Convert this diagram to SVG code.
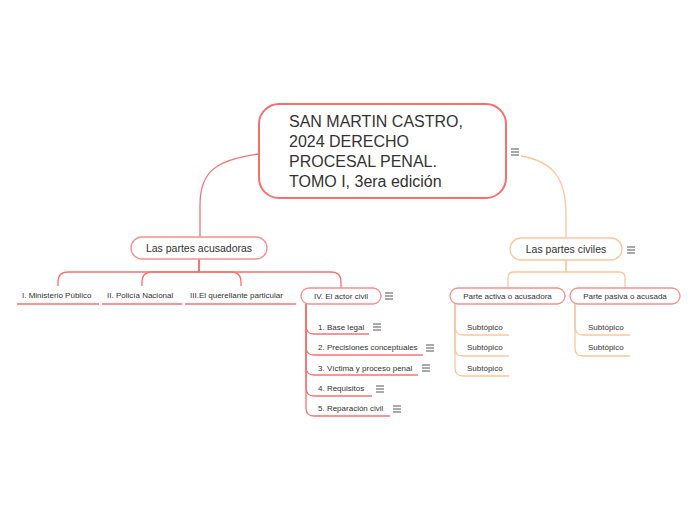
<svg xmlns="http://www.w3.org/2000/svg" xmlns:xlink="http://www.w3.org/1999/xlink" width="697" height="520" viewBox="0 0 697 520">
<style>
text{font-family:"Liberation Sans",Arial,sans-serif;fill:#333}
.root{font-size:16px}
.l1{font-size:10.5px}
.l2{font-size:8px}
.red{fill:none;stroke:#f87272;stroke-width:1.3}
.ora{fill:none;stroke:#ffc59a;stroke-width:1.3}
.box{fill:#fff;stroke:#f79090;stroke-width:1.3}
.obox{fill:#fff;stroke:#ffc59a;stroke-width:1.3}
.ul{fill:none;stroke:#f87272;stroke-width:1.3}
.oul{fill:none;stroke:#ffc59a;stroke-width:1.3}
</style>
<defs>
<g id="menu" stroke="#555" stroke-width="1">
<line x1="-4" y1="-3" x2="4" y2="-3"/><line x1="-4" y1="0" x2="4" y2="0"/><line x1="-4" y1="3" x2="4" y2="3"/>
</g>
</defs>
<rect width="697" height="520" fill="#fff"/>
<g id="connectors">
<path class="red" d="M259,154 C215,160 200,172 200,205 V237"/>
<path class="ora" d="M521,156 C555,162 566,180 566,215 V237"/>
<path class="red" d="M199,259 V272 H68 Q58,272 58,282 V286"/>
<path class="red" d="M199,259 V272 H152 Q142,272 142,282 V286"/>
<path class="red" d="M199,259 V272 H231 Q241,272 241,282 V286"/>
<path class="red" d="M199,259 V272 H331 Q341,272 341,282 V288"/>
<path class="red" d="M306,304 V326 Q306,334 314,334"/>
<path class="red" d="M306,304 V347 Q306,355 314,355"/>
<path class="red" d="M306,304 V367 Q306,375 314,375"/>
<path class="red" d="M306,304 V388 Q306,396 314,396"/>
<path class="red" d="M306,304 V408 Q306,416 314,416"/>
<path class="ora" d="M566,260 V272 H514 Q508,272 508,278 V288"/>
<path class="ora" d="M566,260 V272 H619 Q625,272 625,278 V288"/>
<path class="ora" d="M455,304 V327 Q455,335 463,335"/>
<path class="ora" d="M455,304 V348 Q455,356 463,356"/>
<path class="ora" d="M455,304 V368 Q455,376 463,376"/>
<path class="ora" d="M575,304 V327 Q575,335 583,335"/>
<path class="ora" d="M575,304 V348 Q575,356 583,356"/>
</g>
<g id="root">
<rect x="259" y="104" width="247" height="94" rx="20" fill="#fff" stroke="#f76f6f" stroke-width="2"/>
<text class="root" x="289" y="127">SAN MARTIN CASTRO,</text>
<text class="root" x="289" y="147">2024 DERECHO</text>
<text class="root" x="289" y="167">PROCESAL PENAL.</text>
<text class="root" x="289" y="187">TOMO I, 3era edición</text>
<use xlink:href="#menu" x="515" y="152"/>
</g>
<g id="acusadoras">
<rect class="box" x="131" y="237" width="136" height="22" rx="11"/>
<text class="l1" x="199" y="252" text-anchor="middle">Las partes acusadoras</text>
</g>
<g id="ministerio">
<text class="l2" x="22" y="298">I. Ministerio Público</text>
<line class="ul" x1="17" y1="304" x2="99" y2="304"/>
</g>
<g id="policia">
<text class="l2" x="107" y="298">II. Policía Nacional</text>
<line class="ul" x1="102" y1="304" x2="182" y2="304"/>
</g>
<g id="querellante">
<text class="l2" x="190" y="298">III.El querellante particular</text>
<line class="ul" x1="185" y1="304" x2="296" y2="304"/>
</g>
<g id="actor">
<rect class="box" x="301" y="288" width="80" height="16" rx="8" stroke="#f87272"/>
<text class="l2" x="341" y="299" text-anchor="middle">IV. El actor civil</text>
<use xlink:href="#menu" x="389" y="296"/>
</g>
<g id="base">
<text class="l2" x="318" y="330">1. Base legal</text>
<line class="ul" x1="314" y1="334" x2="369" y2="334"/>
<use xlink:href="#menu" x="377" y="327"/>
</g>
<g id="precisiones">
<text class="l2" x="318" y="350">2. Precisiones conceptuales</text>
<line class="ul" x1="314" y1="355" x2="423" y2="355"/>
<use xlink:href="#menu" x="430" y="348"/>
</g>
<g id="victima">
<text class="l2" x="318" y="371">3. Víctima y proceso penal</text>
<line class="ul" x1="314" y1="375" x2="418" y2="375"/>
<use xlink:href="#menu" x="426" y="368"/>
</g>
<g id="requisitos">
<text class="l2" x="318" y="391">4. Requisitos</text>
<line class="ul" x1="314" y1="396" x2="372" y2="396"/>
<use xlink:href="#menu" x="380" y="389"/>
</g>
<g id="reparacion">
<text class="l2" x="318" y="411">5. Reparación civil</text>
<line class="ul" x1="314" y1="416" x2="390" y2="416"/>
<use xlink:href="#menu" x="397" y="409"/>
</g>
<g id="civiles">
<rect class="obox" x="510" y="238" width="112" height="22" rx="11"/>
<text class="l1" x="566" y="253" text-anchor="middle">Las partes civiles</text>
<use xlink:href="#menu" x="631" y="250"/>
</g>
<g id="activa">
<rect class="box" x="450" y="288" width="115" height="16" rx="8" stroke="#f58383"/>
<text class="l2" x="507.5" y="299" text-anchor="middle">Parte activa o acusadora</text>
</g>
<g id="pasiva">
<rect class="box" x="570" y="288" width="110" height="16" rx="8" stroke="#f58383"/>
<text class="l2" x="625" y="299" text-anchor="middle">Parte pasiva o acusada</text>
</g>
<g id="sub1"><text class="l2" x="467" y="330">Subtópico</text><line class="oul" x1="463" y1="335" x2="509" y2="335"/></g>
<g id="sub2"><text class="l2" x="467" y="350">Subtópico</text><line class="oul" x1="463" y1="356" x2="509" y2="356"/></g>
<g id="sub3"><text class="l2" x="467" y="371">Subtópico</text><line class="oul" x1="463" y1="376" x2="509" y2="376"/></g>
<g id="sub4"><text class="l2" x="588" y="330">Subtópico</text><line class="oul" x1="583" y1="335" x2="630" y2="335"/></g>
<g id="sub5"><text class="l2" x="588" y="350">Subtópico</text><line class="oul" x1="583" y1="356" x2="630" y2="356"/></g>
</svg>
